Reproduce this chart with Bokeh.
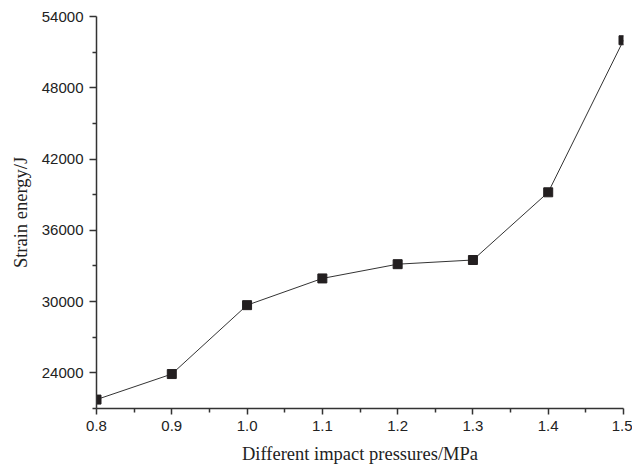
from bokeh.plotting import figure
from bokeh.models import FixedTicker, PrintfTickFormatter, Range1d, ColumnDataSource
from bokeh.embed import file_html
from bokeh.resources import INLINE

pressure = [0.8, 0.9, 1.0, 1.1, 1.2, 1.3, 1.4, 1.5]
strain_energy = [21750, 23900, 29700, 31950, 33150, 33500, 39200, 52000]

x_ticks = [0.8, 0.9, 1.0, 1.1, 1.2, 1.3, 1.4, 1.5]
x_minor = [0.85, 0.95, 1.05, 1.15, 1.25, 1.35, 1.45]
y_ticks = [24000, 30000, 36000, 42000, 48000, 54000]
y_minor = [21000, 27000, 33000, 39000, 45000, 51000]

src = ColumnDataSource(data=dict(x=pressure, y=strain_energy))

p = figure(width=632, height=470, output_backend="svg", toolbar_location=None,
           x_range=Range1d(0.8, 1.5), y_range=Range1d(21000, 54000),
           min_border_left=96, min_border_right=9, min_border_top=16, min_border_bottom=62)

p.line("x", "y", source=src, line_color="#333333", line_width=1)
p.scatter("x", "y", source=src, marker="square", size=9, fill_color="#231f20", line_color="#231f20")

p.xgrid.visible = False
p.ygrid.visible = False
p.outline_line_color = None
p.background_fill_color = "white"
p.border_fill_color = "white"

for ax in (p.xaxis[0], p.yaxis[0]):
    ax.axis_line_color = "#333333"
    ax.axis_line_width = 1.5
    ax.major_tick_line_color = "#333333"
    ax.major_tick_line_width = 1.5
    ax.minor_tick_line_color = "#333333"
    ax.minor_tick_line_width = 1.5
    ax.major_tick_in = 0
    ax.minor_tick_in = 0
    ax.major_label_text_font = "Liberation Sans"
    ax.major_label_text_font_size = "15px"
    ax.major_label_text_color = "#222222"
    ax.axis_label_text_font = "Liberation Serif"
    ax.axis_label_text_font_size = "18.5px"
    ax.axis_label_text_font_style = "normal"
    ax.axis_label_text_color = "#222222"

p.xaxis[0].ticker = FixedTicker(ticks=x_ticks, minor_ticks=x_minor)
p.xaxis[0].formatter = PrintfTickFormatter(format="%.1f")
p.xaxis[0].major_tick_out = 6
p.xaxis[0].minor_tick_out = 4
p.xaxis[0].major_label_standoff = 6
p.xaxis[0].axis_label = "Different impact pressures/MPa"
p.xaxis[0].axis_label_standoff = 10

p.yaxis[0].ticker = FixedTicker(ticks=y_ticks, minor_ticks=y_minor)
p.yaxis[0].formatter = PrintfTickFormatter(format="%d")
p.yaxis[0].major_tick_out = 7
p.yaxis[0].minor_tick_out = 4
p.yaxis[0].major_label_standoff = 6
p.yaxis[0].axis_label = "Strain energy/J"
p.yaxis[0].axis_label_standoff = 8

open("out.html", "w").write(file_html(p, INLINE))
